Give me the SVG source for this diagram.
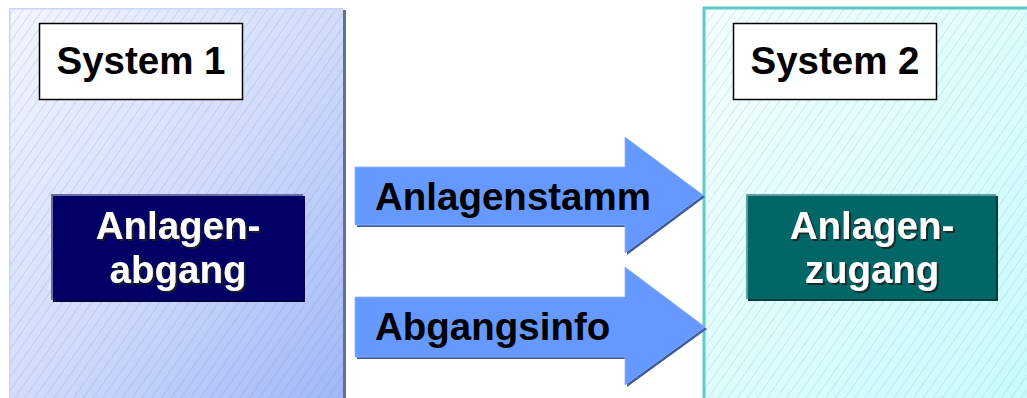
<svg xmlns="http://www.w3.org/2000/svg" width="1027" height="398" viewBox="0 0 1027 398">
  <defs>
    <linearGradient id="gLeft" x1="0" y1="0" x2="1" y2="1">
      <stop offset="0" stop-color="#f4f6ff"/>
      <stop offset="0.5" stop-color="#d2ddfc"/>
      <stop offset="1" stop-color="#9fb7f8"/>
    </linearGradient>
    <linearGradient id="gRight" x1="0" y1="0" x2="1" y2="1">
      <stop offset="0" stop-color="#f6ffff"/>
      <stop offset="1" stop-color="#c6fbfb"/>
    </linearGradient>
    <pattern id="hatchL" width="8" height="8" patternUnits="userSpaceOnUse" patternTransform="rotate(35)">
      <line x1="0" y1="0" x2="0" y2="8" stroke="#8790b4" stroke-width="0.9" stroke-opacity="0.55"/>
    </pattern>
    <pattern id="hatchR" width="8" height="8" patternUnits="userSpaceOnUse" patternTransform="rotate(35)">
      <line x1="0" y1="0" x2="0" y2="8" stroke="#86b0b0" stroke-width="0.9" stroke-opacity="0.55"/>
    </pattern>
    <filter id="ts" x="-10%" y="-20%" width="130%" height="150%">
      <feDropShadow dx="2" dy="2" stdDeviation="0.5" flood-color="#222222" flood-opacity="0.85"/>
    </filter>
  </defs>
  <style>
    .lbl { font-family: "Liberation Sans", Arial, sans-serif; font-weight: bold; font-size: 38.5px; }
    .dark { fill: #000000; }
    .white { fill: #ffffff; filter: url(#ts); }
    .sysbox { fill: #ffffff; stroke: #000000; stroke-width: 1.5; }
    .arrow { fill: #6699ff; }
    .arrowShadow { fill: #3f5c9e; }
  </style>

  <g id="system1">
    <rect x="11" y="10" width="335" height="395" fill="#627192"/>
    <rect x="9" y="8" width="334" height="395" fill="#c8d6fa"/>
    <rect x="10.5" y="9.5" width="332.5" height="395" fill="url(#gLeft)"/>
    <rect x="10.5" y="9.5" width="332.5" height="395" fill="url(#hatchL)"/>
    <rect class="sysbox" x="39.5" y="23.5" width="203" height="76"/>
    <text class="lbl dark" x="141" y="74" text-anchor="middle">System 1</text>
  </g>

  <g id="system2">
    <rect x="704" y="8" width="330" height="395" fill="url(#gRight)" stroke="#5ccaca" stroke-width="3"/>
    <rect x="705.5" y="9.5" width="330" height="395" fill="url(#hatchR)"/>
    <rect class="sysbox" x="733.5" y="23.5" width="203" height="76"/>
    <text class="lbl dark" x="835" y="74" text-anchor="middle">System 2</text>
  </g>

  <g id="anlagenabgang">
    <rect x="53" y="196" width="252" height="106" fill="#000040"/>
    <rect x="51" y="194" width="252" height="106" fill="#6a6aa6"/>
    <rect x="53" y="196" width="250" height="104" fill="#000066"/>
    <text class="lbl white" x="178" y="239" text-anchor="middle">Anlagen-</text>
    <text class="lbl white" x="178" y="283" text-anchor="middle">abgang</text>
  </g>

  <g id="anlagenzugang">
    <rect x="748" y="196" width="250" height="105" fill="#003c3c"/>
    <rect x="746" y="194" width="250" height="105" fill="#5f9e9e"/>
    <rect x="748" y="196" width="248" height="103" fill="#006666"/>
    <text class="lbl white" x="872" y="239" text-anchor="middle">Anlagen-</text>
    <text class="lbl white" x="872" y="283" text-anchor="middle">zugang</text>
  </g>

  <g id="connectors">
    <g id="arrow-anlagenstamm">
      <polygon class="arrowShadow" points="357,169 627,169 627,139 705,197 627,255 627,227 357,227"/>
      <polygon class="arrow" points="355,167 625,167 625,137 703,195 625,253 625,225 355,225" stroke="#8fb3ff" stroke-width="0.8"/>
      <text class="lbl dark" x="375" y="210">Anlagenstamm</text>
    </g>
    <g id="arrow-abgangsinfo">
      <polygon class="arrowShadow" points="357,299 627,299 627,269 707,329 627,387 627,359 357,359"/>
      <polygon class="arrow" points="355,297 625,297 625,267 705,327 625,385 625,357 355,357" stroke="#8fb3ff" stroke-width="0.8"/>
      <text class="lbl dark" x="375" y="340">Abgangsinfo</text>
    </g>
  </g>
</svg>
